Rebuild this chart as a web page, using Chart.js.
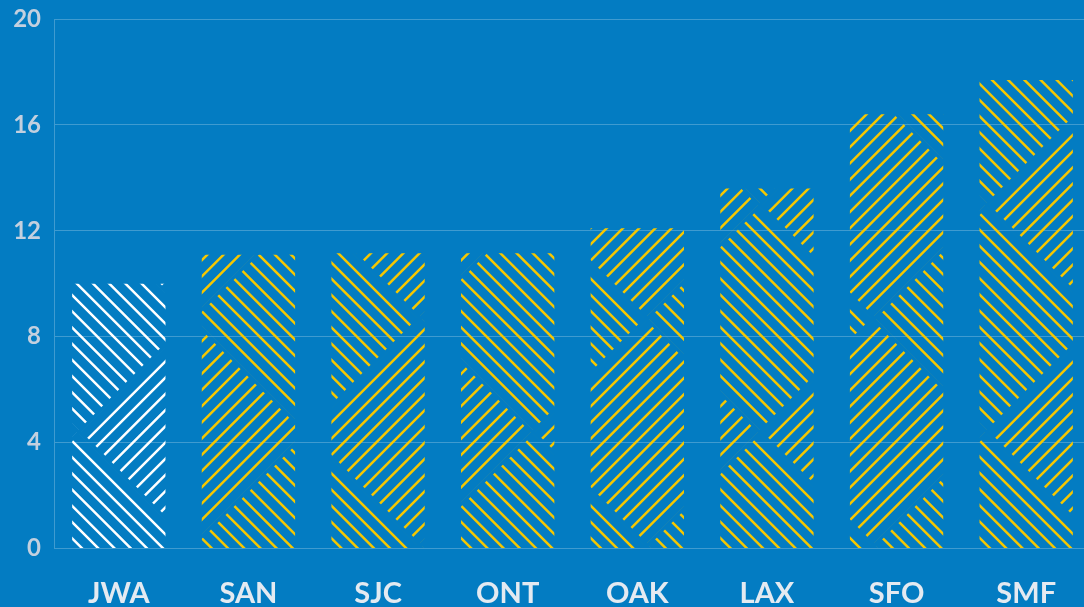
<!DOCTYPE html>
<html>
<head>
<meta charset="utf-8">
<script src="https://cdn.jsdelivr.net/npm/chart.js@4/dist/chart.umd.min.js"></script>
<style>
    html, body { margin: 0; padding: 0; background: #037cc2; overflow: hidden; }
    #wrap { position: absolute; left: 0; top: 0; width: 1091px; height: 607px; }
</style>
</head>
<body>
<div id="wrap"><canvas id="chart"></canvas></div>
<script>
// Airports and their values.
const airports = ['JWA', 'SAN', 'SJC', 'ONT', 'OAK', 'LAX', 'SFO', 'SMF'];
const values = [10, 11.1, 11.15, 11.15, 12.1, 13.6, 16.4, 17.7];
const yTicks = [0, 4, 8, 12, 16, 20];

const TILE = 227;

// Weave hatch: diamonds of '/' and '\' lines, tiled over the canvas.
function weave(color) {
    const c = document.createElement('canvas');
    c.width = TILE;
    c.height = TILE;
    const g = c.getContext('2d');
    const h = TILE / 2;
    const step = TILE / 14;
    const ox = 79, oy = 432 % TILE;
    g.strokeStyle = color;
    g.lineWidth = 2.5;

    const diamond = (cx, cy, dir) => {
        const r = h - 2.5;
        g.save();
        g.beginPath();
        g.moveTo(cx - r, cy);
        g.lineTo(cx, cy - r);
        g.lineTo(cx + r, cy);
        g.lineTo(cx, cy + r);
        g.closePath();
        g.clip();
        g.beginPath();
        const phase = dir < 0 ? 4 : 8;
        const base = dir < 0 ? cx - cy : cx + cy;
        const k0 = Math.floor((base - 2 * h - phase) / step);
        const k1 = Math.ceil((base + 2 * h - phase) / step);
        for (let k = k0; k <= k1; k++) {
            const cc = phase + k * step;
            const xa = cx - h - 4, xb = cx + h + 4;
            if (dir < 0) {
                g.moveTo(xa, xa - cc);
                g.lineTo(xb, xb - cc);
            } else {
                g.moveTo(xa, cc - xa);
                g.lineTo(xb, cc - xb);
            }
        }
        g.stroke();
        g.restore();
    };

    for (let i = -1; i <= 1; i++) {
        for (let j = -1; j <= 1; j++) {
            const px = ox + i * TILE, py = oy + j * TILE;
            diamond(px + h, py, 1);
            diamond(px, py + h, -1);
        }
    }
    return g.createPattern(c, 'repeat');
}

const whiteWeave = weave('#ffffff');
const yellowWeave = weave('#f6c700');

new Chart(document.getElementById('chart'), {
    type: 'bar',
    data: {
        labels: airports,
        datasets: [
            {
                data: values,
                backgroundColor: airports.map((a, i) => (i === 0 ? whiteWeave : yellowWeave)),
                borderWidth: 0,
            },
        ],
    },
    options: {
        responsive: true,
        maintainAspectRatio: false,
        animation: false,
        layout: { padding: { top: 19, right: 0, left: 0, bottom: 0 } },
        plugins: {
            legend: { display: false },
            tooltip: { enabled: false },
        },
        scales: {
            x: {
                grid: { display: false, drawTicks: false },
                border: { display: false },
                ticks: {
                    color: '#e4eaf1',
                    font: { family: 'Lato', size: 29, weight: 'bold' },
                    padding: 28,
                    maxRotation: 0,
                },
                afterFit: (s) => { s.height = 58.5; },
            },
            y: {
                min: 0,
                max: 20,
                afterBuildTicks: (s) => { s.ticks = yTicks.map((v) => ({ value: v })); },
                afterFit: (s) => {
                    s.width = 54;
                    s.paddingTop = 0;
                    s.paddingBottom = 0;
                },
                grid: { color: 'rgba(255,255,255,0.24)', drawTicks: false, lineWidth: 1 },
                border: { color: 'rgba(255,255,255,0.24)' },
                ticks: {
                    color: '#c3d0df',
                    font: { family: 'Lato', size: 24, weight: 'bold' },
                    padding: 13,
                },
            },
        },
    },
});
</script>
</body>
</html>
